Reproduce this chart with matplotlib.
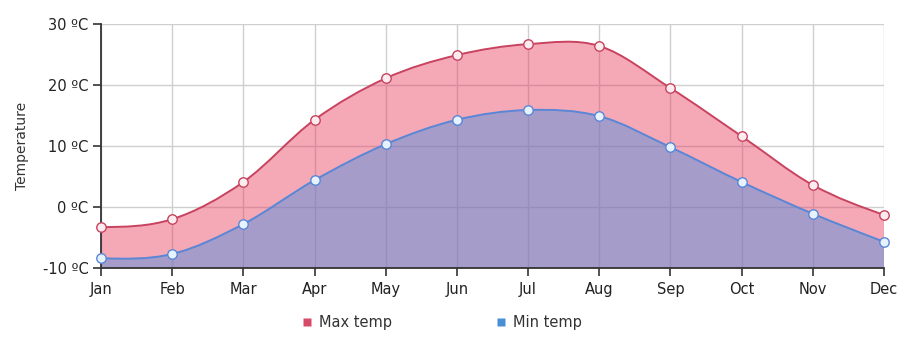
import matplotlib.pyplot as plt
import numpy as np
from matplotlib.path import Path as MplPath
from matplotlib.patches import PathPatch

months = ["Jan", "Feb", "Mar", "Apr", "May", "Jun",
          "Jul", "Aug", "Sep", "Oct", "Nov", "Dec"]
max_temp = [-3.3, -2.0, 4.1, 14.3, 21.1, 24.9, 26.7, 26.4, 19.5, 11.6, 3.6, -1.3]
min_temp = [-8.4, -7.7, -2.8, 4.4, 10.3, 14.3, 15.9, 14.9, 9.8, 4.1, -1.1, -5.7]
y_ticks = [-10, 0, 10, 20, 30]

MAX_LINE = "#c8435f"
MAX_FILL = "#e94061"
MIN_LINE = "#5a86d6"
MIN_FILL = "#458ee2"


def spline_path(xs, ys):
    """Cardinal (Catmull-Rom) Bezier spline through the points,
    with natural end tangents."""
    xs = np.asarray(xs, dtype=float)
    ys = np.asarray(ys, dtype=float)
    n = len(xs)
    m = np.zeros(n)
    m[1:-1] = (ys[2:] - ys[:-2]) / 2.0
    m[0] = (3 * (ys[1] - ys[0]) - m[1]) / 2.0
    m[-1] = (3 * (ys[-1] - ys[-2]) - m[-2]) / 2.0
    verts = [(xs[0], ys[0])]
    codes = [MplPath.MOVETO]
    for i in range(1, n):
        dx = xs[i] - xs[i - 1]
        c1 = (xs[i - 1] + dx / 3, ys[i - 1] + m[i - 1] / 3)
        c2 = (xs[i] - dx / 3, ys[i] - m[i] / 3)
        verts += [c1, c2, (xs[i], ys[i])]
        codes += [MplPath.CURVE4] * 3
    return verts, codes


def area_patch(xs, ys, base, face, alpha):
    verts, codes = spline_path(xs, ys)
    verts = verts + [(xs[-1], base), (xs[0], base), (xs[0], ys[0])]
    codes = codes + [MplPath.LINETO, MplPath.LINETO, MplPath.CLOSEPOLY]
    return PathPatch(MplPath(verts, codes), facecolor=face, edgecolor="none",
                     alpha=alpha, zorder=2)


def line_patch(xs, ys, color):
    verts, codes = spline_path(xs, ys)
    return PathPatch(MplPath(verts, codes), facecolor="none", edgecolor=color,
                     linewidth=1.4, zorder=3)


plt.rcParams["font.family"] = ["DejaVu Sans"]
fig = plt.figure(figsize=(9, 3.41), dpi=100)
ax = fig.add_axes([0.1122, 0.2141, 0.87, 0.7155])

x = np.arange(len(months), dtype=float)
base = y_ticks[0]

ax.add_patch(area_patch(x, max_temp, base, MAX_FILL, 0.45))
ax.add_patch(area_patch(x, min_temp, base, MIN_FILL, 0.45))
ax.add_patch(line_patch(x, max_temp, MAX_LINE))
ax.add_patch(line_patch(x, min_temp, MIN_LINE))
ax.plot(x, max_temp, "o", markersize=6.8, markerfacecolor="#fdecef",
        markeredgecolor=MAX_LINE, markeredgewidth=1.0, zorder=4, clip_on=False)
ax.plot(x, min_temp, "o", markersize=6.8, markerfacecolor="#e6f2fd",
        markeredgecolor=MIN_LINE, markeredgewidth=1.0, zorder=4, clip_on=False)

ax.set_xlim(x[0], x[-1])
ax.set_ylim(y_ticks[0], y_ticks[-1])
ax.set_xticks(x)
ax.set_xticklabels(months)
ax.set_yticks(y_ticks)
ax.set_yticklabels([f"{v} ºC" for v in y_ticks])
ax.set_ylabel("Temperature", fontsize=10, color="#333333", labelpad=10)

ax.grid(True, color="#cfcfcf", linewidth=1.0, zorder=1)
ax.set_axisbelow(True)
for side in ("top", "right"):
    ax.spines[side].set_visible(False)
for side in ("left", "bottom"):
    ax.spines[side].set_color("#333333")
    ax.spines[side].set_linewidth(1.3)
ax.tick_params(axis="both", direction="out", length=6, width=1.2,
               color="#333333", labelsize=10.5, labelcolor="#222222")
ax.tick_params(axis="x", pad=4)
ax.tick_params(axis="y", pad=3)

handles = [
    plt.Line2D([], [], linestyle="none", marker="s", markersize=6,
               markerfacecolor="#d64a68", markeredgecolor="none"),
    plt.Line2D([], [], linestyle="none", marker="s", markersize=6,
               markerfacecolor="#4a8fd6", markeredgecolor="none"),
]
fig.legend(handles, ["Max temp", "Min temp"], loc="center",
           bbox_to_anchor=(0.49, 0.053), ncol=2, frameon=False,
           fontsize=10.5, handletextpad=0.3, columnspacing=7.0,
           handlelength=1.0, labelcolor="#333333")

fig.savefig("out.png", dpi=100)
